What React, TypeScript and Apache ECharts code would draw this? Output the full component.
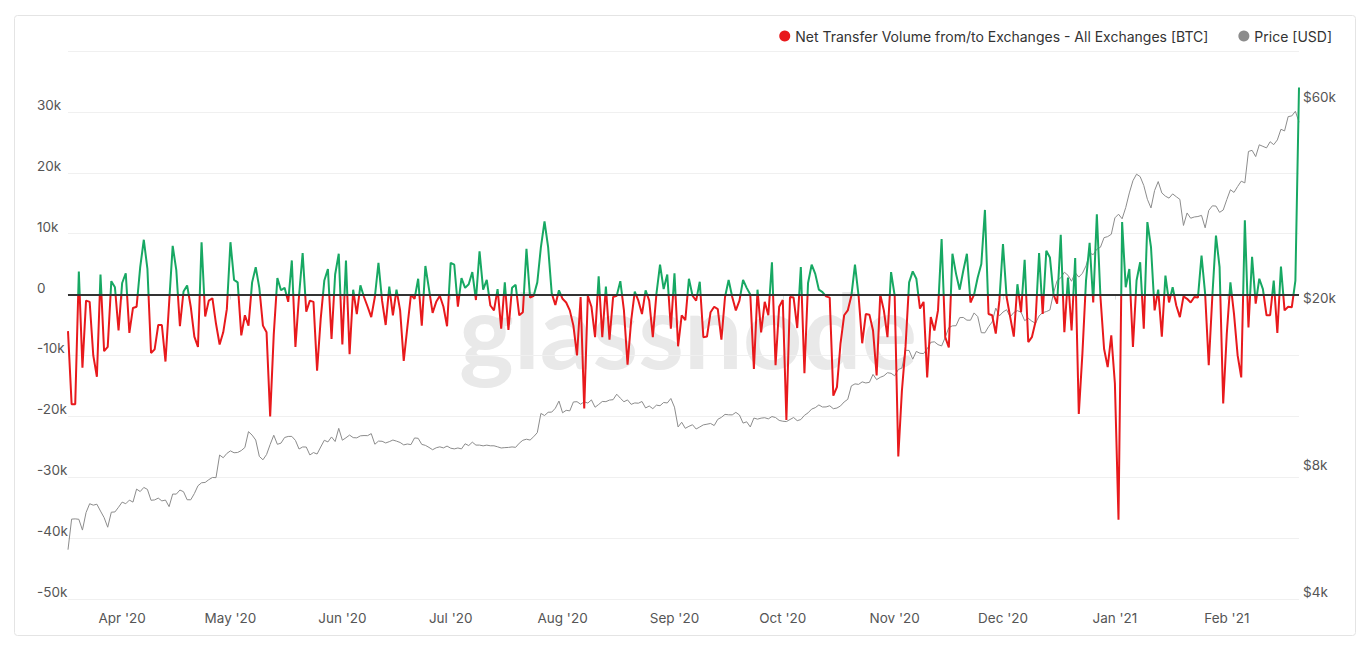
import React, { useEffect, useRef } from "react";
import * as echarts from "echarts";

// Daily series start (local date) — Mar 17, 2020, one point per day
const startYear = 2020;
const startMonth = 2; // March (0-based)
const startDay = 17;

// Net Transfer Volume from/to Exchanges (thousand BTC), one value per day
const netFlowK = [
  -6, -18, -18, 3.8, -12, -1, -1.2, -10, -13.5, 3.3,
  -9.3, -8.6, 2.2, 1.2, -5.9, 1.9, 3.5, -6.3, -2.2, -2,
  4.5, 9, 4.2, -9.6, -9, -5, -5, -11, -1.5, 8,
  4, -5.2, 0.5, 1.5, -2, -6.9, -8.6, 8.6, -3.6, -1,
  -0.6, -4.8, -8.2, -6.2, -2.4, 8.6, 2.4, 2, -6.7, -3.4,
  -5.1, 2, 4.5, 1.1, -5.1, -6.2, -20, -6.5, 2.7, 0.7,
  1.1, -1.2, 5.6, -8.6, -0.2, 6.8, -2.8, -1, -1.2, -12.5,
  -4, 2.3, 4.2, -7.3, 3.3, 6.7, -8.2, 5.6, -9.8, 0.8,
  -3.2, 1.5, -0.4, -2, -3.7, -0.4, 5.2, -1, -5, 1.3,
  -3.4, 0.8, -2.6, -10.9, -5.4, 0, -0.7, 2.6, -5.1, 4.7,
  0.9, -3, -1.2, -0.2, -2, -5.2, 5.2, 4.9, -2, 2.7,
  1.1, 1.7, 3.7, -0.9, 7.1, 0.8, 2.4, -1.8, -2.6, 0.9,
  -5.6, 2, -5.8, 1.1, 1.6, -3.4, -2.9, 7.5, -0.5, -0.2,
  2, 7.8, 12, 7.8, 0.2, -1.7, 0.7, -0.7, -1.3, -2.6,
  -5.1, -10, -0.4, -18.7, -0.2, -2, -7, 3, -7, 1.3,
  -7.4, -0.4, -0.2, 2.2, -2.6, -11.5, -4.3, 0.5, -1, -3.2,
  0.7, -1, -7, 0.1, 4.9, 0.9, 3.3, -5.6, 3.5, -8.5,
  -3.4, -4.2, 2.6, -0.2, -1, 2.1, -7, -6.9, -2.9, -2,
  -2.4, -7.4, -0.4, 2.4, -0.4, -2.6, -1, 2.4, 1.1, 0,
  -12.2, 0.8, -6.2, -1.2, -3.4, 5.3, -11.6, -2, -0.9, -20.6,
  -0.4, -0.5, -5.5, 4.5, -12.9, 1.9, 4.9, 3.4, 0.8, 0.4,
  -0.3, -0.5, -16.6, -15.2, -8, -3.4, -2.6, -0.2, 4.9, -0.2,
  -8, -3.2, -3.3, -5.9, -13.3, 0, -2.6, -7, 3.7, -0.2,
  -26.6, -15.8, -8.6, 2, 3.8, 2.6, -2.3, -1.2, -13.6, -3.7,
  -5.9, -2.6, 9.1, -7, -8.7, 6.7, 3.4, 0.8, 3.9, 6.7,
  -1.3, 0, 2.8, 5, 13.9, -3.2, -3.4, -6.4, -1, 8.3,
  -0.4, -3.7, -6.9, 1.7, -2.9, 5.7, -7.8, -7, -4.5, 6.8,
  -3.2, 7.2, 6.1, 0, -1.5, 9.8, -6.2, 2.8, -5.9, 6,
  -19.6, -9.7, 2.3, 8.5, -1.3, 13.2, -0.4, -8.9, -11.9, -6.7,
  -14.6, -37, 11.9, 1.2, 4.2, -8.6, 2.3, 5.3, -5.6, 11.9,
  7.8, -2.6, 0.8, -6.9, 3.1, -1.3, 1.2, -1.8, -3.7, -0.3,
  -0.7, -1.3, -0.4, -0.5, 6.4, 0.1, -11.6, -0.2, 9.7, 4.5,
  -17.9, -6.4, 2, -3.2, -10, -13.6, 12.2, -5.4, 6.2, -1.5,
  2.6, 0.9, -3.4, -3.4, 2.3, -6.3, 4.6, -2.6, -2, -2.1,
  2.3, 34,
];

// BTC price (USD), one value per day, same dates
const priceMar = [5238, 6191, 6198, 6185, 5830, 6416, 6734, 6681, 6716, 6469, 6242, 5922, 6429, 6438];
const priceApr = [6606, 6794, 6733, 6868, 6794, 7294, 7197, 7361, 7283, 6862, 6875, 6944, 6838, 6870, 6627, 7099, 7097, 7257, 7190, 6882, 6880, 7117, 7429, 7551, 7565, 7680, 7772, 7766, 8787, 8658];
const priceMay = [8864, 8989, 8897, 8912, 9004, 9158, 9986, 9800, 9539, 8722, 8562, 8810, 9310, 9792, 9317, 9378, 9671, 9727, 9730, 9519, 9081, 9183, 9181, 8791, 8907, 8836, 9181, 9526, 9440, 9700, 9461];
const priceJun = [10167, 9529, 9657, 9800, 9665, 9653, 9759, 9775, 9770, 9879, 9321, 9481, 9475, 9387, 9454, 9538, 9480, 9412, 9288, 9333, 9303, 9648, 9629, 9313, 9265, 9162, 9046, 9143, 9190, 9137];
const priceJul = [9228, 9123, 9087, 9133, 9087, 9345, 9253, 9428, 9278, 9278, 9240, 9276, 9243, 9243, 9192, 9132, 9151, 9160, 9185, 9165, 9374, 9526, 9581, 9537, 9713, 9932, 11030, 10907, 11101, 11112, 11351];
const priceAug = [11802, 11071, 11220, 11188, 11745, 11762, 11602, 11754, 11676, 11878, 11412, 11585, 11774, 11767, 11866, 11893, 12254, 11991, 11759, 11878, 11593, 11682, 11665, 11775, 11366, 11488, 11324, 11542, 11507, 11712, 11680];
const priceSep = [11970, 11415, 10245, 10512, 10169, 10281, 10370, 10131, 10243, 10363, 10400, 10443, 10324, 10681, 10797, 10974, 10949, 10944, 11095, 10938, 10463, 10538, 10247, 10756, 10692, 10751, 10776, 10708, 10845, 10785];
const priceOct = [10620, 10570, 10550, 10670, 10789, 10604, 10668, 10916, 11065, 11296, 11384, 11556, 11426, 11430, 11505, 11320, 11362, 11495, 11745, 11916, 12823, 12965, 12931, 13108, 13031, 13076, 13654, 13272, 13438, 13547, 13781];
const priceNov = [13737, 13551, 14025, 14133, 15580, 15566, 14836, 15483, 15330, 15299, 15702, 16277, 16318, 16068, 15955, 16717, 17645, 17804, 17817, 18621, 18643, 18370, 18365, 19108, 18732, 17150, 17139, 17720, 18185, 19625];
const priceDec = [18802, 19201, 19446, 18699, 19154, 19346, 19192, 18321, 18553, 18264, 18058, 18803, 19142, 19246, 19418, 21310, 22806, 23138, 23870, 23478, 22720, 23829, 23242, 23728, 24712, 26493, 26282, 27081, 27362, 28841, 29001];
const priceJan = [29374, 32127, 32782, 31971, 33992, 36824, 39371, 40797, 40254, 38356, 35566, 33923, 37316, 39187, 36825, 36178, 35792, 36630, 36070, 35547, 30826, 33005, 32068, 32289, 32367, 32569, 30432, 33466, 34317, 34270, 33114];
const priceFeb = [33538, 35510, 37472, 36926, 38144, 39266, 38904, 46196, 46481, 44919, 47909, 47504, 47105, 48717, 47945, 49199, 52149, 51679, 55888, 56099, 57539, 54207];

const priceUsd = [
  ...priceMar, ...priceApr, ...priceMay, ...priceJun, ...priceJul, ...priceAug,
  ...priceSep, ...priceOct, ...priceNov, ...priceDec, ...priceJan, ...priceFeb,
];

// Axis ticks
const leftMin = -50;
const leftMax = 40;
const leftInterval = 10;
const priceTicks = [4000, 8000, 20000, 60000];
const priceMin = 4000;
const priceMax = 80000;
const monthNames = ["Jan", "Feb", "Mar", "Apr", "May", "Jun", "Jul", "Aug", "Sep", "Oct", "Nov", "Dec"];

const seriesNames = ["Net Transfer Volume from/to Exchanges - All Exchanges [BTC]", "Price [USD]"];

const RED = "#e8191c";
const GREEN = "#17a863";
const GRAY = "#8c8c8c";
const FONT = "Inter, 'Noto Sans', sans-serif";
const LABEL_COLOR = "#555";

const pad = (n: number) => (n < 10 ? "0" + n : "" + n);

export default function App() {
  const ref = useRef<HTMLDivElement>(null);

  useEffect(() => {
    if (!ref.current) return;
    const chart = echarts.init(ref.current, null, { renderer: "svg" });

    const dates = netFlowK.map((_, i) => {
      const d = new Date(startYear, startMonth, startDay + i);
      return d.getFullYear() + "-" + pad(d.getMonth() + 1) + "-" + pad(d.getDate());
    });
    const isMonthStart = (_idx: number, value: string) => value.slice(8, 10) === "01";
    const monthLabel = (value: string) =>
      monthNames[parseInt(value.slice(5, 7), 10) - 1] + " '" + value.slice(2, 4);

    const baseGraphic = [
      {
        id: "card",
        type: "rect",
        z: -10,
        silent: true,
        shape: { x: 14.5, y: 15.5, width: 1341, height: 620, r: 3 },
        style: { fill: "none", stroke: "#e4e4e4", lineWidth: 1 },
      },
      {
        id: "watermark",
        type: "text",
        z: -5,
        silent: true,
        x: 688,
        y: 328,
        style: {
          text: "glassnode",
          fill: "#e9e9e9",
          fontSize: 104,
          fontWeight: "bold",
          fontFamily: "Lato, sans-serif",
          align: "center",
          verticalAlign: "middle",
        },
      },
    ];

    chart.setOption({
      animation: false,
      backgroundColor: "#ffffff",
      textStyle: { fontFamily: FONT },
      graphic: baseGraphic,
      legend: {
        data: [
          { name: seriesNames[0], itemStyle: { color: RED } },
          { name: seriesNames[1], itemStyle: { color: GRAY } },
        ],
        right: 33,
        top: 24,
        icon: "circle",
        itemWidth: 11,
        itemHeight: 11,
        itemGap: 30,
        textStyle: { color: "#333", fontSize: 14, fontFamily: FONT },
      },
      grid: { left: 68, right: 71, top: 51, bottom: 51, containLabel: false },
      visualMap: {
        type: "piecewise",
        show: false,
        seriesIndex: 0,
        dimension: 1,
        pieces: [
          { gt: -1000, lt: 0, color: RED },
          { gte: 0, lte: 1000, color: GREEN },
        ],
        outOfRange: { color: RED },
      },
      xAxis: {
        type: "category",
        data: dates,
        boundaryGap: false,
        axisLine: { show: true, lineStyle: { color: "#e6e6e6" } },
        axisTick: { show: true, interval: isMonthStart, length: 5, lineStyle: { color: "#dddddd" } },
        splitLine: { show: false },
        axisLabel: {
          interval: isMonthStart,
          color: LABEL_COLOR,
          fontSize: 13.5,
          margin: 12,
          fontFamily: FONT,
          formatter: monthLabel,
        },
      },
      yAxis: [
        {
          type: "value",
          min: leftMin,
          max: leftMax,
          interval: leftInterval,
          position: "left",
          axisLine: { show: false },
          axisTick: { show: false },
          splitLine: { show: true, lineStyle: { color: "#f0f0f0", width: 1 } },
          axisLabel: {
            showMaxLabel: false,
            align: "left",
            margin: 31,
            verticalAlign: "bottom",
            color: LABEL_COLOR,
            fontSize: 13.5,
            fontFamily: FONT,
            formatter: (v: number) => (v === 0 ? "0" : v + "k"),
          },
        },
        {
          type: "log",
          logBase: 10,
          min: priceMin,
          max: priceMax,
          position: "right",
          axisLine: { show: false },
          axisTick: { show: false },
          splitLine: { show: false },
          axisLabel: { show: false },
        },
      ],
      series: [
        {
          name: seriesNames[0],
          type: "line",
          yAxisIndex: 0,
          data: netFlowK,
          showSymbol: false,
          symbol: "none",
          z: 4,
          itemStyle: { color: RED },
          lineStyle: { width: 2 },
          markLine: {
            silent: true,
            symbol: ["none", "none"],
            label: { show: false },
            lineStyle: { color: "#333333", width: 2, type: "solid" },
            data: [{ yAxis: 0 }],
          },
        },
        {
          name: seriesNames[1],
          type: "line",
          yAxisIndex: 1,
          data: priceUsd,
          showSymbol: false,
          symbol: "none",
          z: 3,
          itemStyle: { color: GRAY },
          lineStyle: { width: 1, color: GRAY },
        },
      ],
    });

    // Right (log) axis labels placed through the price axis' own scale
    const gridRect = (chart as any).getModel().getComponent("grid", 0).coordinateSystem.getRect();
    const priceLabels = priceTicks.map((v, i) => {
      const py = chart.convertToPixel({ yAxisIndex: 1 }, v) as number;
      return {
        id: "price-label-" + i,
        type: "text",
        silent: true,
        x: gridRect.x + gridRect.width + 4,
        y: py,
        style: {
          text: "$" + Math.round(v / 1000) + "k",
          fill: LABEL_COLOR,
          fontSize: 13.5,
          fontFamily: FONT,
          align: "left",
          verticalAlign: "bottom",
        },
      };
    });
    chart.setOption({ graphic: [...baseGraphic, ...priceLabels] });

    return () => chart.dispose();
  }, []);

  return (
    <div
      ref={ref}
      style={{ position: "fixed", left: 0, top: 0, width: 1370, height: 650, background: "#fff" }}
    />
  );
}
